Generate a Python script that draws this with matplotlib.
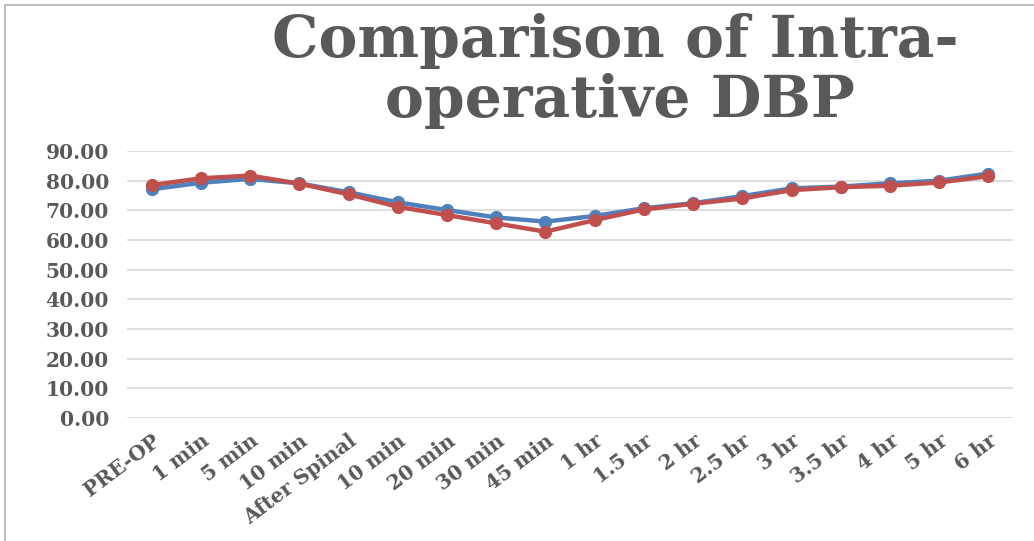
import numpy as np
import matplotlib.pyplot as plt
from matplotlib.patches import Rectangle

# time points
labels = ["PRE-OP", "1 min", "5 min", "10 min", "After Spinal", "10 min", "20 min",
          "30 min", "45 min", "1 hr", "1.5 hr", "2 hr", "2.5 hr", "3 hr", "3.5 hr",
          "4 hr", "5 hr", "6 hr"]

# mean DBP, two groups
group_blue = [77.1, 79.3, 80.6, 79.1, 76.1, 72.7, 70.1, 67.6, 66.2, 68.1,
              70.7, 72.4, 74.8, 77.4, 78.0, 79.1, 80.0, 82.4]
group_red = [78.5, 80.8, 81.7, 79.0, 75.4, 71.2, 68.4, 65.6, 62.8, 66.7,
             70.3, 72.2, 74.0, 76.8, 77.8, 78.3, 79.4, 81.5]

fig = plt.figure(figsize=(10.34, 5.41), dpi=100)
ax = fig.add_axes([127/1034, 1 - 418/541, (1013 - 127)/1034, (418 - 151)/541])

x = np.arange(len(labels))
ax.plot(x, group_blue, color="#4F81BD", lw=3.2, marker="o", ms=8.5, zorder=3)
ax.plot(x, group_red, color="#C0504D", lw=3.2, marker="o", ms=8.5, zorder=4)

ax.set_xlim(-0.5, len(labels) - 0.5)
ax.set_ylim(0, 90)
ax.set_yticks(np.arange(0, 91, 10))
ax.set_yticklabels([f"{v:.2f}" for v in np.arange(0, 91, 10)],
                   fontfamily="DejaVu Serif", fontweight="bold", fontsize=14.5, color="#595959")
ax.set_xticks(x)
ax.set_xticklabels(labels, rotation=37, ha="right", va="top", rotation_mode="anchor",
                   fontfamily="DejaVu Serif", fontweight="bold", fontsize=14.5, color="#595959")
ax.tick_params(axis="y", length=0, pad=13)
ax.tick_params(axis="x", length=0, pad=9)
ax.grid(axis="y", color="#D9D9D9", lw=1.2)
ax.set_axisbelow(True)
for s in ax.spines.values():
    s.set_visible(False)

fig.text(615/1034, 1 - 57/541, "Comparison of Intra-", ha="center", va="baseline",
         fontfamily="DejaVu Serif", fontweight="bold", fontsize=42, color="#595959")
fig.text(620/1034, 1 - 117/541, "operative DBP", ha="center", va="baseline",
         fontfamily="DejaVu Serif", fontweight="bold", fontsize=42, color="#595959")

# chart border (left/top)
fig.add_artist(Rectangle((5/1034, -0.05), 1.1, 1 - 5/541 + 0.05, transform=fig.transFigure,
                         fill=False, edgecolor="#BFBFBF", lw=1.5))

fig.savefig("out.png", dpi=100)
